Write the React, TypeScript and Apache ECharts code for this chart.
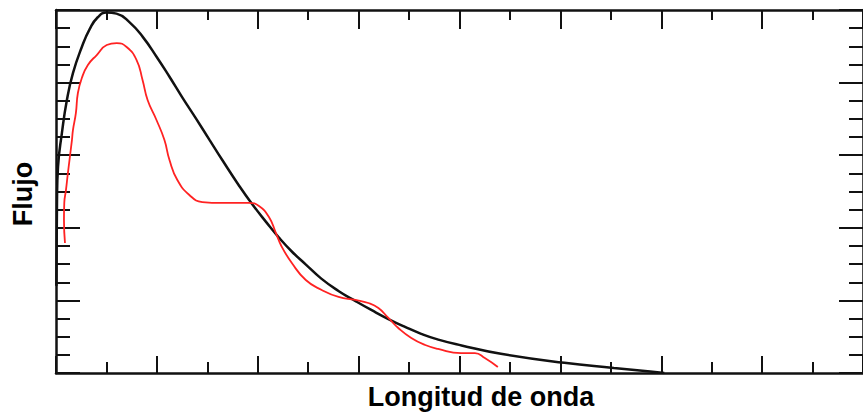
import React, { useEffect, useRef } from "react";
import * as echarts from "echarts";

// Black curve (theoretical black-body-like curve): [wavelength, flux]
const blackCurve: [number, number][] = [
  [0.003, 1.2], [0.01, 2.38], [0.02, 2.84], [0.059, 3.31], [0.108, 3.76], [0.168, 4.13],
  [0.256, 4.49], [0.335, 4.74], [0.414, 4.9], [0.5, 4.965], [0.6, 4.95],
  [0.73, 4.83], [0.86, 4.63], [1.0, 4.35], [1.125, 4.08], [1.25, 3.8],
  [1.39, 3.5], [1.52, 3.215], [1.65, 2.93], [1.815, 2.58], [1.94, 2.335],
  [2.08, 2.085], [2.21, 1.865], [2.34, 1.67], [2.48, 1.49], [2.63, 1.3],
  [2.8, 1.13], [2.97, 0.99], [3.13, 0.865], [3.3, 0.74], [3.46, 0.635],
  [3.62, 0.54], [3.79, 0.46], [4.02, 0.38], [4.41, 0.265], [5.04, 0.14],
  [5.53, 0.07], [5.89, 0.02], [6.03, 0.0],
];

// Red curve (observed spectrum): [wavelength, flux]
const redCurve: [number, number][] = [
  [0.089, 1.79], [0.079, 2.107], [0.082, 2.342], [0.099, 2.521], [0.118, 2.755],
  [0.158, 3.209], [0.168, 3.347], [0.197, 3.581], [0.217, 3.857], [0.256, 4.063],
  [0.316, 4.242], [0.404, 4.38], [0.503, 4.518], [0.602, 4.545], [0.7, 4.49],
  [0.799, 4.311], [0.858, 4.036], [0.908, 3.76], [0.996, 3.485], [1.075, 3.209],
  [1.125, 2.934], [1.203, 2.658], [1.322, 2.452], [1.45, 2.355], [1.647, 2.342],
  [1.815, 2.342], [1.914, 2.342], [2.012, 2.3], [2.111, 2.149], [2.18, 1.928],
  [2.239, 1.736], [2.338, 1.515], [2.476, 1.281], [2.634, 1.143], [2.801, 1.047],
  [2.969, 1.006], [3.097, 0.964], [3.196, 0.895], [3.295, 0.758], [3.393, 0.62],
  [3.522, 0.482], [3.66, 0.386], [3.788, 0.331], [4.015, 0.275], [4.153, 0.275],
  [4.251, 0.207], [4.38, 0.083],
];

const xTitle = "Longitud de onda";
const yTitle = "Flujo";

export default function App() {
  const ref = useRef<HTMLDivElement>(null);

  useEffect(() => {
    if (!ref.current) return;
    const chart = echarts.init(ref.current, undefined, { renderer: "svg" });
    const axisColor = "#111";
    const baseX = (position: "bottom" | "top", major: number, minor: number) => ({
      type: "value" as const,
      position,
      min: 0,
      max: 8,
      interval: 1,
      axisLine: { show: true, onZero: false, lineStyle: { color: axisColor, width: 2.5 } },
      axisTick: { show: true, inside: true, length: major, lineStyle: { color: axisColor, width: 2 } },
      minorTick: { show: true, splitNumber: 2, length: minor, lineStyle: { color: axisColor, width: 2 } },
      axisLabel: { show: false },
      splitLine: { show: false },
      minorSplitLine: { show: false },
    });
    const baseY = (position: "left" | "right") => ({
      type: "value" as const,
      position,
      min: 0,
      max: 5,
      interval: 1,
      axisLine: { show: true, onZero: false, lineStyle: { color: axisColor, width: 2.5 } },
      axisTick: { show: true, inside: true, length: 24, lineStyle: { color: axisColor, width: 2 } },
      minorTick: { show: true, splitNumber: 4, length: 14, lineStyle: { color: axisColor, width: 2 } },
      axisLabel: { show: false },
      splitLine: { show: false },
      minorSplitLine: { show: false },
    });

    chart.setOption({
      animation: false,
      backgroundColor: "#ffffff",
      grid: { left: 56, top: 10, width: 811, height: 363, containLabel: false },
      xAxis: [baseX("bottom", 17, 11), baseX("top", 19, 10)],
      yAxis: [baseY("left"), baseY("right")],
      series: [
        {
          type: "line",
          data: blackCurve,
          xAxisIndex: 0,
          yAxisIndex: 0,
          showSymbol: false,
          smooth: 0.5,
          lineStyle: { color: "#111", width: 2.5 },
          z: 2,
        },
        {
          type: "line",
          data: redCurve,
          xAxisIndex: 0,
          yAxisIndex: 0,
          showSymbol: false,
          smooth: 0.5,
          lineStyle: { color: "#ff2222", width: 1.8 },
          z: 3,
        },
      ],
      graphic: [
        {
          type: "text",
          x: 481,
          y: 397,
          style: {
            text: xTitle,
            fontFamily: "Liberation Sans, Arial, sans-serif",
            fontWeight: "bold",
            fontSize: 27,
            fill: "#000",
            textAlign: "center",
            textVerticalAlign: "middle",
          },
        },
        {
          type: "text",
          x: 23,
          y: 194,
          rotation: Math.PI / 2,
          style: {
            text: yTitle,
            fontFamily: "Liberation Sans, Arial, sans-serif",
            fontWeight: "bold",
            fontSize: 27,
            fill: "#000",
            textAlign: "center",
            textVerticalAlign: "middle",
          },
        },
      ],
    });
    return () => chart.dispose();
  }, []);

  return (
    <div
      ref={ref}
      style={{ position: "absolute", left: 0, top: 0, width: 863, height: 414, background: "#fff" }}
    />
  );
}
